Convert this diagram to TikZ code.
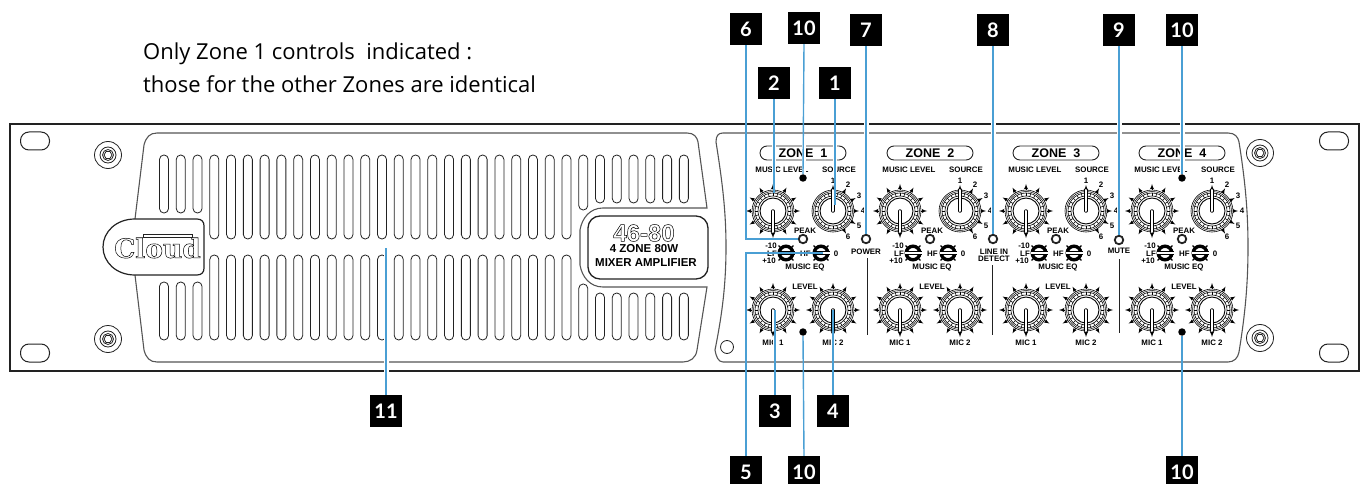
\documentclass[tikz,border=0pt]{standalone}
\usepackage{fontspec}
\setmainfont{Open Sans}
\newfontfamily\panelfont{Liberation Sans}
\newfontfamily\numfont{Lato}
\newfontfamily\logofont{DejaVu Serif}
\newcommand{\outlined}[1]{\special{pdf:code 1 Tr 0.5 w}#1\special{pdf:code 0 Tr 1 w}}
\definecolor{leader}{HTML}{4A9FD4}
\definecolor{grey}{HTML}{555555}
\definecolor{ink}{HTML}{222222}
\tikzset{
  callnum/.style={fill=black,text=white,minimum size=32pt,inner sep=0pt,font=\numfont\bfseries\fontsize{20}{20}\selectfont},
  leadline/.style={draw=leader,line width=1.4pt},
  haloline/.style={leadline,preaction={draw=white,line width=5pt}},
  gapline/.style={draw=white,line width=4pt},
  slotline/.style={draw=ink,line width=0.8pt,rounded corners=4.4pt},
  lab/.style={inner sep=0pt,font=\panelfont\bfseries\fontsize{7.9}{9}\selectfont},
  eqring/.style={draw=black,line width=3.4pt},
  dotled/.style={circle,fill=black,inner sep=0pt,minimum size=7.5pt},
  ringled/.style={circle,draw=ink,line width=1.8pt,inner sep=0pt,minimum size=8.5pt},
  knobbody/.pic={
    \draw[line width=0.6pt] (0,0) circle (21);
    \draw[line width=0.5pt] (0,0) circle (19.5);
    \foreach \a in {0,15,...,345}
      \draw[line width=0.6pt] (\a:15) -- (\a:18);
    \draw[line width=0.6pt] (0,0) circle (18);
    \draw[line width=0.6pt] (0,0) circle (15);
    \draw[line width=0.9pt] (0,0) circle (13);
  },
  levelknob/.pic={
    \foreach \a in {0,30,...,330}
      \draw[line width=0.7pt,-latex] (\a:21) -- (\a:27);
    \pic {knobbody};
    \draw[line width=3.4pt,line cap=round] (0,0) -- (0,21);
    \draw[line width=2pt,white,line cap=round] (0,0) -- (0,21);
  },
  sourceknob/.pic={
    \foreach \a in {-90,-60,-30,0,30,60}
      \draw[line width=0.7pt,-latex] (\a:21) -- (\a:26);
    \pic {knobbody};
    \draw[line width=3.4pt,line cap=round] (0,0) -- (0,-21);
    \draw[line width=2pt,white,line cap=round] (0,0) -- (0,-21);
    \foreach \n/\a in {1/-90,2/-60,3/-30,4/0,5/30,6/60}
      \node[lab,fill=white,inner sep=0.3pt] (srcno\n) at (\a:30) {\n};
  },
  eqknob/.pic={
    \foreach \a in {-45,45}{
      \draw[line width=1.2pt] (\a:7) -- (\a:10.5);
      \draw[line width=1.2pt] (180-\a:7) -- (180-\a:10.5);
    }
    \draw[eqring,fill=white] (0,0) circle (6.8);
    \draw[line width=3.4pt] (-8.5,0) -- (8.5,0);
    \draw[line width=1.6pt,white] (-8.5,0) -- (8.5,0);
  },
  panelscrew/.pic={
    \draw[line width=0.8pt,draw=ink] (0,0) circle (13.5);
    \draw[line width=0.8pt,draw=ink] (0,0) circle (8);
    \draw[line width=0.8pt,draw=ink] (0,0) circle (5.5);
    \draw[line width=0.8pt,draw=ink] (0:4) -- (60:4) -- (120:4) -- (180:4) -- (240:4) -- (300:4) -- cycle;
  },
  rackslot/.pic={
    \draw[draw=ink,line width=1pt,rounded corners=8.5pt] (-14.5,-9) rectangle (14.5,9);
  },
}
\begin{document}
\begin{tikzpicture}[x=1pt,y=-1pt]
  \useasboundingbox (0,0) rectangle (1366,484);
  \node[anchor=west,inner sep=0pt,font=\fontsize{22}{22}\selectfont](noteone) at (143,54) {Only Zone 1 controls\ \ indicated :};
  \node[anchor=west,inner sep=0pt,font=\fontsize{22}{22}\selectfont](notetwo) at (143,84) {those for the other Zones are identical};
  \draw[draw=ink,line width=1.2pt] (10,124) rectangle (1359,371);
  \pic at (35,141) {rackslot};
  \pic at (35,353) {rackslot};
  \pic at (1334,141) {rackslot};
  \pic at (1334,353) {rackslot};
  \pic at (108,155) {panelscrew};
  \pic at (108,339) {panelscrew};
  \pic at (1260,153) {panelscrew};
  \pic at (1260,338) {panelscrew};
  \draw[draw=grey,line width=1.1pt] (157,133) -- (687,133) .. controls (694,133) and (697,137) .. (698,142) -- (707,208)
    -- (603,208) .. controls (590,208) and (582,218) .. (580,230) -- (580,265) .. controls (582,277) and (590,287) .. (603,287)
    -- (707,287) -- (697,350) .. controls (696,358) and (690,362) .. (683,362) -- (157,362)
    .. controls (150,362) and (146,358) .. (144,350) -- (135,275) -- (135,219) -- (144,145) .. controls (146,137) and (150,133) .. (157,133) -- cycle;
  \foreach \first/\last/\ta/\tb in {0/2/213/282,3/24/239/255,25/25/210/284,26/31/203/293}
    \foreach \i in {\first,...,\last}{
      \pgfmathsetmacro{\xs}{164+16.77*\i}
      \draw[slotline] ({\xs-4.5},155) rectangle ({\xs+4.5},\ta);
      \draw[slotline] ({\xs-4.5},\tb) rectangle ({\xs+4.5},340);
    }
  \draw[draw=ink,line width=1.2pt,fill=white] (135,219) -- (197,219) .. controls (202,219) and (204,222) .. (204,226) -- (204,268)
    .. controls (204,272) and (202,275) .. (197,275) -- (135,275) .. controls (116,275) and (103,262) .. (103,247)
    .. controls (103,232) and (116,219) .. (135,219) -- cycle;
  \node[inner sep=0pt,font=\logofont\bfseries\fontsize{26.5}{27}\selectfont](cloudname) at (157.5,248) {\outlined{Cloud}};
  \draw[draw=ink,line width=0.6pt] (143,234.5) rectangle (192,237);
  \node[draw=ink,line width=1.3pt,rounded corners=12pt,minimum width=120pt,minimum height=63pt,inner sep=0pt](modelbadge) at (648,247.5) {};
  \node[inner sep=0pt,font=\panelfont\bfseries\fontsize{24}{24}\selectfont](modelno) at (644,233) {\outlined{46-80}};
  \node[inner sep=0pt,font=\panelfont\bfseries\fontsize{11.5}{12}\selectfont](modelzone) at (644,249) {4 ZONE 80W};
  \node[inner sep=0pt,font=\panelfont\bfseries\fontsize{11.5}{12}\selectfont](modelmix) at (646,263) {MIXER AMPLIFIER};
  \draw[draw=grey,line width=1.1pt] (723,133) -- (1228,133) .. controls (1235,133) and (1238,137) .. (1239,142)
    .. controls (1245,180) and (1248,210) .. (1248,247) .. controls (1248,285) and (1245,315) .. (1239,352)
    .. controls (1238,358) and (1234,362) .. (1228,362) -- (723,362) .. controls (718,362) and (716,356) .. (715,350)
    .. controls (722,315) and (726,285) .. (726,247) .. controls (726,210) and (722,180) .. (716,142)
    .. controls (716,136) and (718,133) .. (723,133) -- cycle;
  \draw[draw=ink,line width=0.8pt] (727,347) circle (6.5);
  \foreach \zc/\zn in {803/1,930/2,1056/3,1182/4}{
    \node[draw=ink,line width=0.9pt,rounded corners=7pt,minimum width=86pt,minimum height=14pt,inner sep=0pt,font=\panelfont\bfseries\fontsize{12.5}{13}\selectfont](zone\zn) at (\zc,153) {ZONE\ \ \zn};
    \node[lab](musiclevel\zn) at ({\zc-21},170) {MUSIC LEVEL};
    \node[lab](source\zn) at ({\zc+36},170) {SOURCE};
    \pic at ({\zc-30},211) {levelknob};
    \pic at ({\zc+30},211) {sourceknob};
    \node[lab](peak\zn) at ({\zc+2},231) {PEAK};
    \node[ringled](peakled\zn) at (\zc,239) {};
    \pic at ({\zc-17},253) {eqknob};
    \pic at ({\zc+18},253) {eqknob};
    \node[lab](minusten\zn) at ({\zc-32},246) {-10};
    \node[lab](lf\zn) at ({\zc-31},253.5) {LF};
    \node[lab](plusten\zn) at ({\zc-34},261) {+10};
    \node[lab](hf\zn) at ({\zc+2.5},253.5) {HF};
    \node[lab](zero\zn) at ({\zc+33},253.5) {0};
    \node[lab](musiceq\zn) at ({\zc+2},268) {MUSIC EQ};
    \node[lab](level\zn) at ({\zc+2},287) {LEVEL};
    \pic at ({\zc-30},310) {levelknob};
    \pic at ({\zc+30},310) {levelknob};
    \node[lab](micone\zn) at ({\zc-30},343) {MIC 1};
    \node[lab](mictwo\zn) at ({\zc+30},343) {MIC 2};
  }
  \node[dotled](clipa) at (803,178) {};
  \node[dotled](clipb) at (803,332) {};
  \node[dotled](clipc) at (1182,178) {};
  \node[dotled](clipd) at (1182,332) {};
  \node[ringled](powerled) at (866,239) {};
  \node[ringled](linein) at (993,239) {};
  \node[ringled](muteled) at (1119,240) {};
  \node[lab](power) at (866,252) {POWER};
  \node[lab,align=center,font=\panelfont\bfseries\fontsize{7.9}{7}\selectfont](lineintext) at (994,255) {LINE IN\\DETECT};
  \node[lab](mute) at (1119,251) {MUTE};
  \draw[draw=ink,line width=0.8pt] (867,258) -- (867,335);
  \draw[draw=ink,line width=0.8pt] (992,265) -- (992,335);
  \draw[draw=ink,line width=0.8pt] (1119,259) -- (1119,333);
  \node[callnum](numone) at (835,83) {1};
  \node[callnum](numtwo) at (774,83) {2};
  \node[callnum](numthree) at (775,411) {3};
  \node[callnum](numfour) at (833,411) {4};
  \node[callnum](numfive) at (746,472) {5};
  \node[callnum](numsix) at (746,29) {6};
  \node[callnum](numseven) at (866,30) {7};
  \node[callnum](numeight) at (993,30) {8};
  \node[callnum](numnine) at (1119,30) {9};
  \node[callnum](numtena) at (804,28) {10};
  \node[callnum](numtenb) at (804,472) {10};
  \node[callnum](numtenc) at (1182,30) {10};
  \node[callnum](numtend) at (1182,472) {10};
  \node[callnum](numeleven) at (386,411) {11};
  \coordinate (tipone) at (835,205);
  \coordinate (tiptwo) at (774,193);
  \coordinate (tipthree) at (775,310);
  \coordinate (tipfour) at (833,310);
  \coordinate (tipfive) at (823,253);
  \coordinate (tipeleven) at (386,248);
  \foreach \x/\ya/\yb in {774/144/182,835/144/178,804/144/172,775/336/350,833/336/350,804/338/350,1182/144/172,1182/338/350}
    \draw[gapline] (\x,\ya) -- (\x,\yb);
  \draw[leadline] (numone.south) -- (tipone);
  \draw[leadline] (numtwo.south) -- (tiptwo);
  \draw[leadline] (numthree.north) -- (tipthree);
  \draw[leadline] (numfour.north) -- (tipfour);
  \draw[leadline] (numfive.north) |- (tipfive);
  \draw[leadline] (numsix.south) |- (peakled1.west);
  \draw[haloline] (numseven.south) -- (powerled.north);
  \draw[haloline] (numeight.south) -- (linein.north);
  \draw[haloline] (numnine.south) -- (muteled.north);
  \draw[leadline] (numtena.south) -- (clipa.north);
  \draw[leadline] (numtenb.north) -- (clipb.south);
  \draw[haloline] (numtenc.south) -- (clipc.north);
  \draw[leadline] (numtend.north) -- (clipd.south);
  \draw[haloline] (numeleven.north) -- (tipeleven);
\end{tikzpicture}
\end{document}
